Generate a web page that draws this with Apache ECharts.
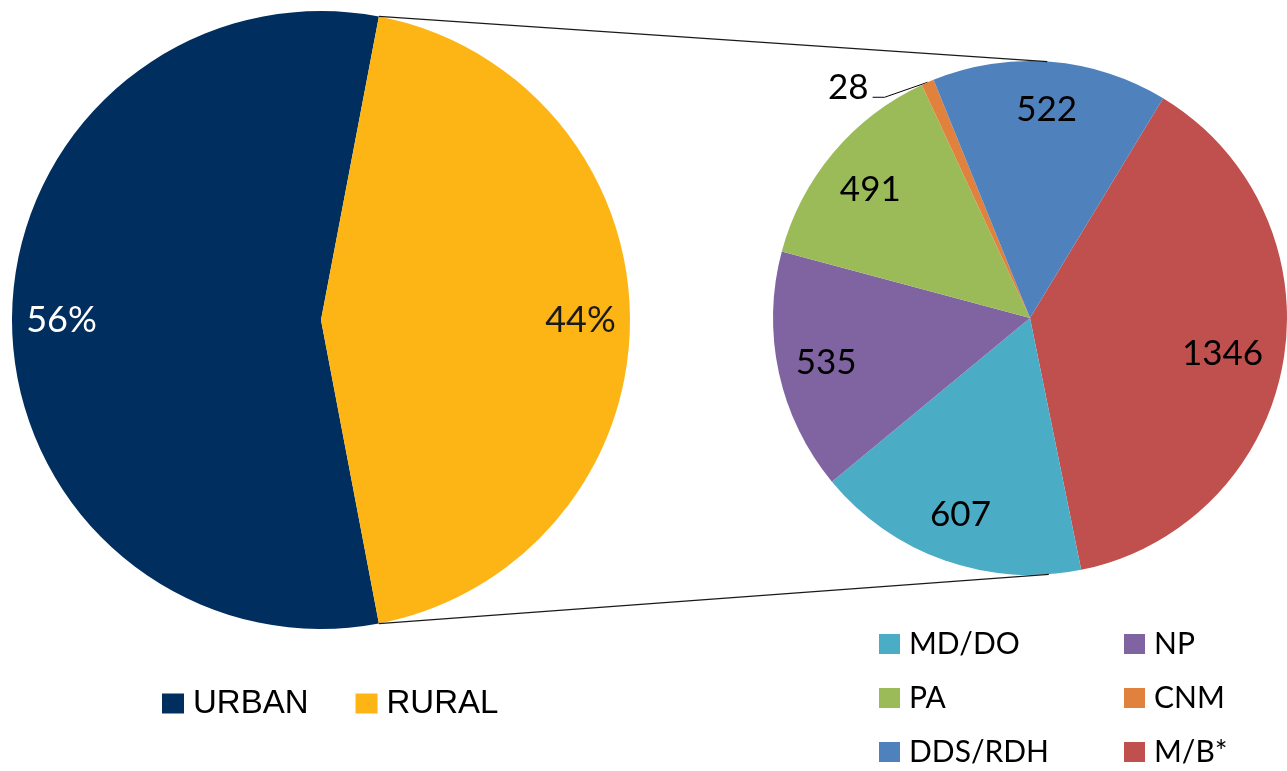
<!DOCTYPE html>
<html>
<head>
<meta charset="utf-8">
<script src="https://cdn.jsdelivr.net/npm/echarts@6/dist/echarts.min.js"></script>
<style>
  html, body { margin: 0; padding: 0; background: #fff; }
  #chart { width: 1287px; height: 771px; }
</style>
</head>
<body>
<div id="chart"></div>
<script>
// left pie: urban vs rural share (percent)
const areaNames = ['URBAN', 'RURAL'];
const areaValues = [56, 44];
const areaColors = ['#002F5F', '#FDB515'];
const areaLabelColors = ['#ffffff', '#1a1a1a'];

// right pie: provider counts (drawn clockwise starting with M/B*)
const providerNames = ['M/B*', 'MD/DO', 'NP', 'PA', 'CNM', 'DDS/RDH'];
const providerValues = [1346, 607, 535, 491, 28, 522];
const providerColors = ['#C0504D', '#4BACC6', '#8064A2', '#9BBB59', '#E0823D', '#4F81BD'];

// legend layout (two columns under the right pie)
const legendCol1 = ['MD/DO', 'PA', 'DDS/RDH'];
const legendCol2 = ['NP', 'CNM', 'M/B*'];

// geometry
const left = { cx: 321, cy: 320, r: 309, start: -79.2 };
const right = { cx: 1030, cy: 318, r: 257, start: 58.8 };
const CNM_INDEX = providerNames.indexOf('CNM');
const MB_INDEX = providerNames.indexOf('M/B*');

const FONT = 'Lato, "Open Sans", sans-serif';

// middle angle (deg, echarts convention) of a slice
function midAngle(values, start, idx) {
  const total = values.reduce((a, b) => a + b, 0);
  let acc = 0;
  for (let i = 0; i < idx; i++) acc += values[i];
  return start - (acc + values[idx] / 2) / total * 360;
}

// point on the left pie where the two slices meet (right side)
function splitPoint(sign) {
  const total = areaValues.reduce((a, b) => a + b, 0);
  const a = (left.start - areaValues[0] / total * 360) * Math.PI / 180;
  const ang = sign > 0 ? a : left.start * Math.PI / 180;
  return [left.cx + left.r * Math.cos(ang), left.cy - left.r * Math.sin(ang)];
}

// tangent point from P to the right circle, top or bottom
function tangentPoint(p, top) {
  const dx = p[0] - right.cx, dy = p[1] - right.cy;
  const d = Math.sqrt(dx * dx + dy * dy);
  const th = Math.atan2(dy, dx);
  const al = Math.acos(right.r / d);
  const pts = [th + al, th - al].map(t => [right.cx + right.r * Math.cos(t), right.cy + right.r * Math.sin(t)]);
  pts.sort((a, b) => a[1] - b[1]);
  return top ? pts[0] : pts[1];
}

const topStart = splitPoint(1);
const bottomStart = splitPoint(-1);
const topEnd = tangentPoint(topStart, true);
const bottomEnd = tangentPoint(bottomStart, false);

const chart = echarts.init(document.getElementById('chart'));

const providerLegend = (data, x) => ({
  data: data,
  orient: 'vertical',
  left: x,
  top: 624,
  height: 160,
  icon: 'rect',
  itemWidth: 21,
  itemHeight: 20,
  itemGap: 24,
  selectedMode: false,
  textStyle: { fontFamily: FONT, fontSize: 30, color: '#000', lineHeight: 30, padding: [0, 0, 0, 4] }
});

chart.setOption({
  animation: false,
  backgroundColor: '#ffffff',
  legend: [
    {
      data: areaNames,
      orient: 'horizontal',
      left: 157,
      top: 682,
      icon: 'rect',
      itemWidth: 22,
      itemHeight: 20,
      itemGap: 47,
      selectedMode: false,
      textStyle: { fontFamily: '"Liberation Sans", Arial, sans-serif', fontSize: 33, color: '#000', lineHeight: 30, padding: [0, 0, 0, 4] }
    },
    providerLegend(legendCol1, 874),
    providerLegend(legendCol2, 1119)
  ],
  graphic: [
    {
      type: 'line', z: 10, silent: true,
      shape: { x1: topStart[0], y1: topStart[1], x2: topEnd[0], y2: topEnd[1] },
      style: { stroke: '#1a1a1a', lineWidth: 1.3 }
    },
    {
      type: 'line', z: 10, silent: true,
      shape: { x1: bottomStart[0], y1: bottomStart[1], x2: bottomEnd[0], y2: bottomEnd[1] },
      style: { stroke: '#1a1a1a', lineWidth: 1.3 }
    }
  ],
  series: [
    {
      name: 'area',
      type: 'pie',
      center: [left.cx, left.cy],
      radius: [0, left.r],
      startAngle: left.start,
      clockwise: true,
      avoidLabelOverlap: false,
      emphasis: { disabled: true },
      label: { show: false },
      labelLine: { show: false },
      data: areaNames.map((n, i) => ({ name: n, value: areaValues[i], itemStyle: { color: areaColors[i] } }))
    },
    {
      name: 'provider',
      type: 'pie',
      center: [right.cx, right.cy],
      radius: [0, right.r],
      startAngle: right.start,
      clockwise: true,
      avoidLabelOverlap: false,
      emphasis: { disabled: true },
      label: { show: false },
      labelLine: { show: false },
      labelLayout: function (params) {
        if (params.dataIndex !== CNM_INDEX) return {};
        const a = midAngle(providerValues, right.start, CNM_INDEX) * Math.PI / 180;
        const ex = right.cx + right.r * Math.cos(a);
        const ey = right.cy - right.r * Math.sin(a);
        return {
          x: ex - 59,
          y: ey + 5,
          align: 'right',
          verticalAlign: 'middle',
          labelLinePoints: [[ex, ey], [ex - 43, ey + 15], [ex - 55, ey + 15]]
        };
      },
      data: providerNames.map((n, i) => {
        const item = { name: n, value: providerValues[i], itemStyle: { color: providerColors[i] } };
        if (i === CNM_INDEX) {
          item.label = { show: true, position: 'outside', formatter: '{c}', fontFamily: FONT, fontSize: 35, color: '#000' };
          item.labelLine = { show: true, lineStyle: { color: '#000', width: 1 } };
        }
        return item;
      })
    },
    // transparent rings carrying the inside labels further out
    {
      name: 'area-labels',
      type: 'pie',
      silent: true,
      legendHoverLink: false,
      center: [left.cx, left.cy],
      radius: [left.r * 0.66, left.r],
      startAngle: left.start,
      clockwise: true,
      avoidLabelOverlap: false,
      emphasis: { disabled: true },
      itemStyle: { color: 'transparent' },
      label: { show: true, position: 'inside', formatter: '{c}%', fontFamily: FONT, fontSize: 36 },
      data: areaNames.map((n, i) => ({ name: n, value: areaValues[i], label: { color: areaLabelColors[i] } }))
    },
    {
      name: 'provider-labels',
      type: 'pie',
      silent: true,
      legendHoverLink: false,
      center: [right.cx, right.cy],
      radius: [right.r * 0.6, right.r],
      startAngle: right.start,
      clockwise: true,
      avoidLabelOverlap: false,
      emphasis: { disabled: true },
      itemStyle: { color: 'transparent' },
      label: { show: true, position: 'inside', formatter: '{c}', fontFamily: FONT, fontSize: 35, color: '#000' },
      labelLayout: function (params) {
        if (params.dataIndex === MB_INDEX) return { dx: -13 };
        if (params.dataIndex === providerNames.indexOf('PA')) return { dy: 6 };
        return {};
      },
      data: providerNames.map((n, i) => ({ name: n, value: providerValues[i], label: { show: i !== CNM_INDEX } }))
    }
  ]
});
</script>
</body>
</html>
